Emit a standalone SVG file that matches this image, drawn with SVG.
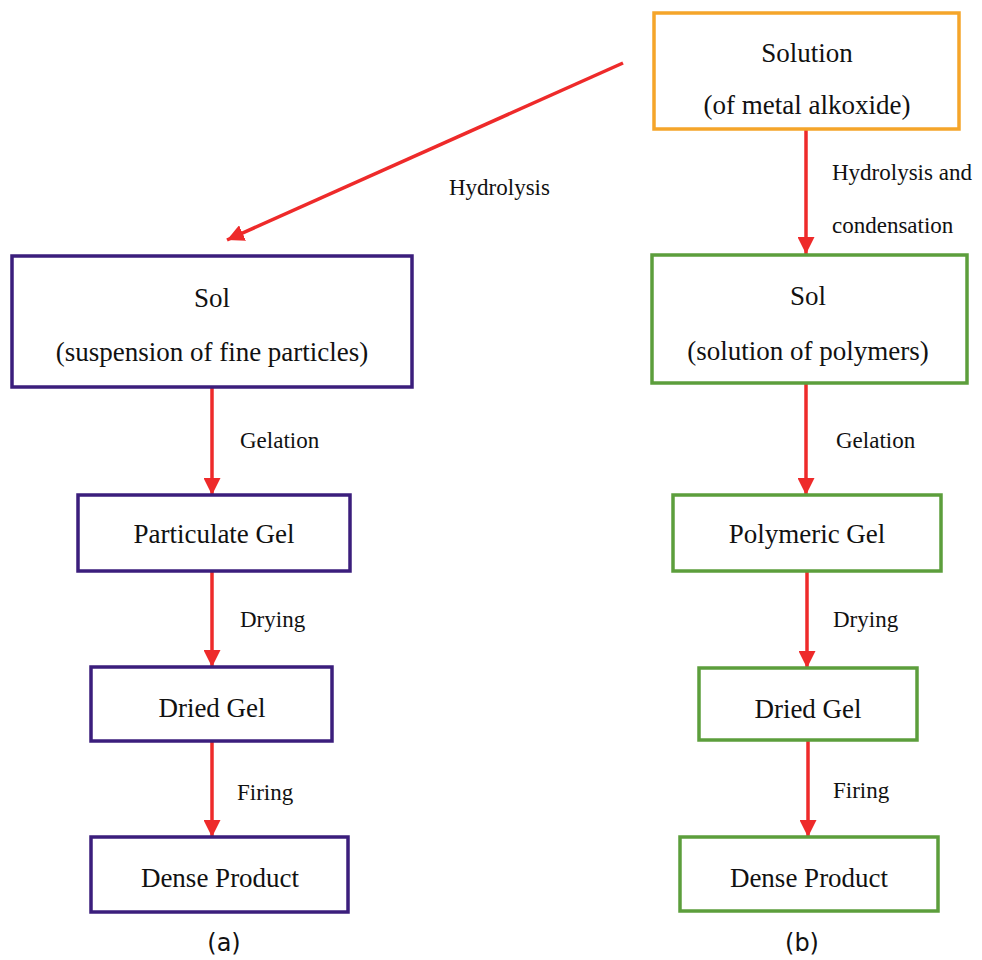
<svg xmlns="http://www.w3.org/2000/svg" width="982" height="960" viewBox="0 0 982 960">
<defs>
<marker id="ah" markerUnits="userSpaceOnUse" markerWidth="17" markerHeight="17" viewBox="0 0 10 10" refX="10" refY="5" orient="auto">
<path d="M0,0 L10,5 L0,10 z" fill="#EE2A2A"/>
</marker>
<style>
.bp{fill:#fff;stroke:#3B1E7C;stroke-width:3.5}
.bg{fill:#fff;stroke:#5C9E3C;stroke-width:3.5}
.bo{fill:#fff;stroke:#F5A52A;stroke-width:3.5}
.t{font-family:"Liberation Serif","Times New Roman",serif;font-size:27px;fill:#111;text-anchor:middle}
.l{font-family:"Liberation Serif","Times New Roman",serif;font-size:23px;fill:#111}
.c{font-family:"DejaVu Sans",Verdana,sans-serif;font-size:24px;fill:#111;text-anchor:middle}
.a{stroke:#EE2A2A;stroke-width:3.5;fill:none;marker-end:url(#ah)}
</style>
</defs>
<rect width="982" height="960" fill="#fff"/>
<g id="connectors">
<line class="a" x1="623" y1="63" x2="227" y2="240"/>
<line class="a" x1="806" y1="129" x2="806" y2="254"/>
<line class="a" x1="212" y1="387" x2="212" y2="495"/>
<line class="a" x1="212" y1="571" x2="212" y2="667"/>
<line class="a" x1="212" y1="741" x2="212" y2="837"/>
<line class="a" x1="806" y1="383" x2="806" y2="495"/>
<line class="a" x1="807" y1="571" x2="807" y2="668"/>
<line class="a" x1="808" y1="740" x2="808" y2="837"/>
<text class="l" x="449" y="195">Hydrolysis</text>
<text class="l" x="832" y="180">Hydrolysis and</text>
<text class="l" x="832" y="233">condensation</text>
<text class="l" x="240" y="448">Gelation</text>
<text class="l" x="240" y="627">Drying</text>
<text class="l" x="237" y="800">Firing</text>
<text class="l" x="836" y="448">Gelation</text>
<text class="l" x="833" y="627">Drying</text>
<text class="l" x="833" y="798">Firing</text>
</g>
<g id="solution">
<rect class="bo" x="654" y="13" width="305" height="116"/>
<text class="t" x="807" y="62">Solution</text>
<text class="t" x="807" y="114">(of metal alkoxide)</text>
</g>
<g id="sol-a">
<rect class="bp" x="12" y="256" width="400" height="131"/>
<text class="t" x="212" y="307">Sol</text>
<text class="t" x="212" y="361">(suspension of fine particles)</text>
</g>
<g id="particulate-gel">
<rect class="bp" x="78" y="495" width="272" height="76"/>
<text class="t" x="214" y="543">Particulate Gel</text>
</g>
<g id="dried-gel-a">
<rect class="bp" x="91" y="667" width="241" height="74"/>
<text class="t" x="212" y="717">Dried Gel</text>
</g>
<g id="dense-a">
<rect class="bp" x="91" y="837" width="257" height="75"/>
<text class="t" x="220" y="887">Dense Product</text>
</g>
<g id="sol-b">
<rect class="bg" x="652" y="255" width="315" height="128"/>
<text class="t" x="808" y="305">Sol</text>
<text class="t" x="808" y="360">(solution of polymers)</text>
</g>
<g id="polymeric-gel">
<rect class="bg" x="673" y="495" width="268" height="76"/>
<text class="t" x="807" y="543">Polymeric Gel</text>
</g>
<g id="dried-gel-b">
<rect class="bg" x="699" y="668" width="218" height="72"/>
<text class="t" x="808" y="718">Dried Gel</text>
</g>
<g id="dense-b">
<rect class="bg" x="680" y="837" width="258" height="74"/>
<text class="t" x="809" y="887">Dense Product</text>
</g>
<g id="captions">
<text class="c" x="224" y="951">(a)</text>
<text class="c" x="802" y="951">(b)</text>
</g>
</svg>
